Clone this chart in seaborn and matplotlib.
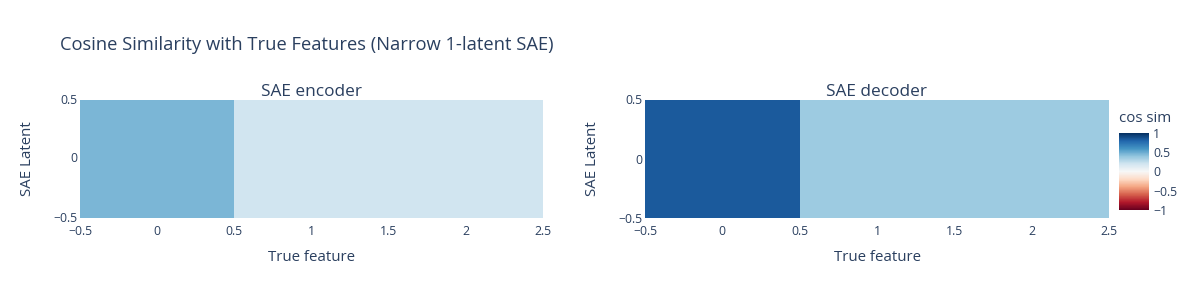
import numpy as np
import pandas as pd
import matplotlib
matplotlib.use("Agg")
import matplotlib.pyplot as plt
import seaborn as sns

# Data
true_features = [0, 1, 2]
sae_latents = [0]
encoder_cos = [[0.46, 0.20, 0.20]]
decoder_cos = [[0.84, 0.36, 0.365]]
x_tick_labels = ["\u22120.5", "0", "0.5", "1", "1.5", "2", "2.5"]
y_tick_labels = ["0.5", "0", "\u22120.5"]
cbar_ticks = [-1, -0.5, 0, 0.5, 1]
cbar_tick_labels = ["\u22121", "\u22120.5", "0", "0.5", "1"]

sns.set_style("white")
plt.rcParams["font.family"] = ["Open Sans", "DejaVu Sans"]
TXT = "#2a3f5f"

W, H = 1200, 300
fig = plt.figure(figsize=(W / 100, H / 100), dpi=100)

def fx(px):
    return px / W

def fy(py):
    return 1 - py / H

ax1 = fig.add_axes([fx(80), fy(218), fx(543 - 80), (218 - 100) / H])
ax2 = fig.add_axes([fx(645), fy(218), fx(1109 - 645), (218 - 100) / H])
cax = fig.add_axes([fx(1119), fy(210), fx(30), (210 - 133) / H])

panels = [(ax1, encoder_cos, "SAE encoder"), (ax2, decoder_cos, "SAE decoder")]
for i, (ax, vals, title) in enumerate(panels):
    df = pd.DataFrame(vals, index=sae_latents, columns=true_features)
    sns.heatmap(df, ax=ax, cmap="RdBu", vmin=-1, vmax=1, cbar=(i == 1),
                cbar_ax=cax if i == 1 else None, linewidths=0)
    ax.set_xticks(np.arange(0, 3.01, 0.5))
    ax.set_xticklabels(x_tick_labels, rotation=0, fontsize=8.8, color=TXT)
    ax.set_yticks([0, 0.5, 1])
    ax.set_yticklabels(y_tick_labels, rotation=0, fontsize=8.8, color=TXT)
    ax.tick_params(axis="x", length=0, pad=5)
    ax.tick_params(axis="y", length=0, pad=2)
    ax.set_xlabel("True feature", fontsize=10.8, color=TXT, labelpad=9)
    ax.set_ylabel("SAE Latent", fontsize=10.8, color=TXT, labelpad=13)
    ax.set_title(title, fontsize=12.4, color=TXT, pad=3)
    for s in ax.spines.values():
        s.set_visible(False)

cb = ax2.collections[0].colorbar
cb.set_ticks(cbar_ticks)
cb.set_ticklabels(cbar_tick_labels)
cax.tick_params(labelsize=8.8, labelcolor=TXT, length=0, pad=3)
cb.outline.set_visible(False)
fig.text(fx(1119), fy(118), "cos sim", fontsize=10.8, color=TXT, ha="left", va="center")

fig.text(fx(60), fy(45), "Cosine Similarity with True Features (Narrow 1-latent SAE)",
         fontsize=13.2, color=TXT, ha="left", va="center")

fig.savefig("out.png", dpi=100, facecolor="white")
